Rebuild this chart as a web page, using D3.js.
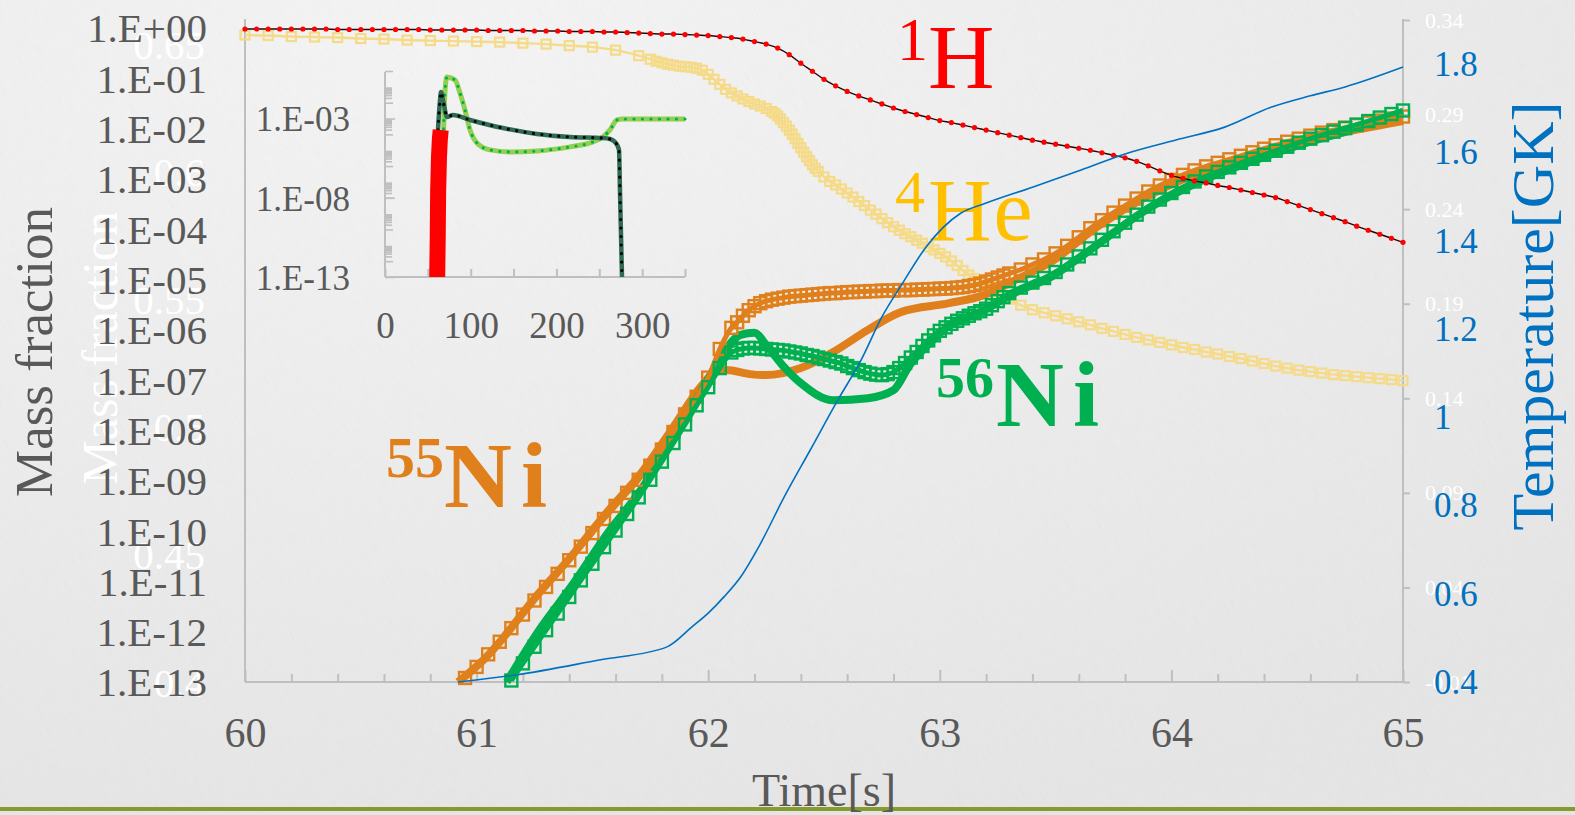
<!DOCTYPE html>
<html>
<head>
<meta charset="utf-8">
<script src="https://cdn.jsdelivr.net/npm/d3@7"></script>
<style>
  html, body { margin: 0; padding: 0; overflow: hidden; background: #ebebeb; }
  svg { display: block; }
  text { font-family: "Liberation Serif", "Times New Roman", serif; }
</style>
</head>
<body>
<svg id="chart" width="1575" height="815"></svg>
<script>
// ---------- Tick definitions ----------
const timeTicks = [60, 61, 62, 63, 64, 65];
const massTickExp = [0, -1, -2, -3, -4, -5, -6, -7, -8, -9, -10, -11, -12, -13];
const tempTicks = [0.4, 0.6, 0.8, 1.0, 1.2, 1.4, 1.6, 1.8];
const ghostLeftTicks = [0.4, 0.45, 0.5, 0.55, 0.6, 0.65];
const ghostRightTicks = [-0.01, 0.04, 0.09, 0.14, 0.19, 0.24, 0.29, 0.34];
const insetTimeTicks = [0, 100, 200, 300];
const insetMassExp = [-3, -8, -13];

// ---------- 1H mass fraction (log10) ----------
const h1Time = [
  60.00,60.05,60.10,60.15,60.20,60.25,60.30,60.35,60.40,60.45,
  60.50,60.55,60.60,60.65,60.70,60.75,60.80,60.85,60.90,60.95,
  61.00,61.05,61.10,61.15,61.20,61.25,61.30,61.35,61.40,61.45,
  61.50,61.55,61.60,61.65,61.70,61.75,61.80,61.85,61.90,61.95,
  62.00,62.05,62.10,62.15,62.20,62.25,62.30,62.35,62.40,62.45,
  62.50,62.55,62.60,62.65,62.70,62.75,62.80,62.85,62.90,62.95,
  63.00,63.05,63.10,63.15,63.20,63.25,63.30,63.35,63.40,63.45,
  63.50,63.55,63.60,63.65,63.70,63.75,63.80,63.85,63.90,63.95,
  64.00,64.05,64.10,64.15,64.20,64.25,64.30,64.35,64.40,64.45,
  64.50,64.55,64.60,64.65,64.70,64.75,64.80,64.85,64.90,64.95,
  65.00];
const h1Log = [
  -0.02,-0.02,-0.02,-0.02,-0.02,-0.02,-0.02,-0.02,-0.03,-0.03,
  -0.03,-0.03,-0.03,-0.03,-0.03,-0.03,-0.04,-0.04,-0.04,-0.04,
  -0.04,-0.05,-0.05,-0.05,-0.05,-0.06,-0.06,-0.06,-0.07,-0.07,
  -0.07,-0.08,-0.08,-0.09,-0.10,-0.11,-0.12,-0.12,-0.13,-0.14,
  -0.15,-0.17,-0.19,-0.22,-0.27,-0.32,-0.40,-0.53,-0.70,-0.86,
  -1.02,-1.15,-1.26,-1.35,-1.43,-1.51,-1.59,-1.66,-1.72,-1.78,
  -1.84,-1.88,-1.93,-1.98,-2.03,-2.08,-2.13,-2.18,-2.23,-2.27,
  -2.31,-2.35,-2.39,-2.43,-2.48,-2.53,-2.58,-2.65,-2.74,-2.84,
  -2.93,-2.99,-3.04,-3.08,-3.13,-3.17,-3.22,-3.27,-3.32,-3.37,
  -3.45,-3.53,-3.61,-3.69,-3.77,-3.85,-3.94,-4.02,-4.10,-4.18,
  -4.26];

// ---------- 4He mass fraction (log10) ----------
const he4Time = [
  60.0,60.1,60.2,60.3,60.4,60.5,60.6,60.7,60.8,60.9,61.0,61.1,61.2,61.3,61.4,61.5,61.6,61.7,
  61.75,61.775,61.8,61.825,61.85,61.875,61.9,61.925,61.95,61.975,
  62.0,62.025,62.05,62.075,62.1,62.125,62.15,62.175,62.2,62.225,
  62.25,62.275,62.2875,62.3,62.3125,62.325,62.3375,62.35,62.3625,62.375,
  62.3875,62.4,62.4125,62.425,62.4375,62.45,62.4625,62.475,
  62.5,62.525,62.55,62.575,62.6,62.625,62.65,62.675,62.7,62.725,
  62.75,62.775,62.8,62.825,62.85,62.875,62.9,62.925,62.95,62.975,
  63.0,63.025,63.05,63.075,63.1,63.125,63.15,63.175,63.2,63.225,63.25,
  63.3,63.35,63.4,63.45,63.5,63.55,63.6,63.65,63.7,63.75,
  63.8,63.85,63.9,63.95,64.0,64.05,64.1,64.15,64.2,64.25,
  64.3,64.35,64.4,64.45,64.5,64.55,64.6,64.65,64.7,64.75,
  64.8,64.85,64.9,64.95,65.0];
const he4Log = [
  -0.14,-0.15,-0.17,-0.18,-0.19,-0.21,-0.22,-0.24,-0.25,-0.26,-0.27,-0.28,-0.30,-0.32,-0.35,-0.38,-0.44,-0.55,
  -0.62,-0.66,-0.69,-0.72,-0.74,-0.76,-0.77,-0.78,-0.80,-0.84,
  -0.92,-1.02,-1.12,-1.22,-1.29,-1.35,-1.41,-1.46,-1.51,-1.55,
  -1.60,-1.66,-1.70,-1.75,-1.81,-1.88,-1.95,-2.03,-2.11,-2.20,
  -2.29,-2.38,-2.47,-2.56,-2.64,-2.72,-2.79,-2.85,
  -2.96,-3.05,-3.12,-3.20,-3.28,-3.36,-3.45,-3.53,-3.62,-3.70,
  -3.79,-3.87,-3.95,-4.02,-4.09,-4.15,-4.22,-4.28,-4.35,-4.41,
  -4.48,-4.55,-4.63,-4.72,-4.82,-4.91,-4.98,-5.04,-5.11,-5.18,-5.25,
  -5.39,-5.51,-5.60,-5.66,-5.72,-5.78,-5.84,-5.90,-5.97,-6.03,
  -6.09,-6.15,-6.20,-6.25,-6.30,-6.35,-6.39,-6.44,-6.48,-6.53,
  -6.57,-6.62,-6.67,-6.72,-6.76,-6.80,-6.83,-6.86,-6.89,-6.91,
  -6.93,-6.95,-6.97,-6.99,-7.01];

// ---------- 55Ni / 56Ni, square-marker runs (log10) ----------
const ni55SqTime = [
  60.95,61.00,61.05,61.10,61.15,61.20,61.25,61.30,61.35,61.40,61.45,61.50,
  61.55,61.60,61.65,61.70,61.75,61.80,61.85,61.90,61.95,62.00,62.05,62.10,
  62.125,62.15,62.175,62.2,62.225,62.25,62.275,62.3,62.325,62.35,62.375,62.4,
  62.425,62.45,62.475,62.5,62.525,62.55,62.575,62.6,62.625,62.65,62.675,62.7,
  62.725,62.75,62.775,62.8,62.825,62.85,62.875,62.9,62.925,62.95,62.975,63.0,
  63.025,63.05,63.075,63.1,63.125,63.15,63.175,63.2,63.225,63.25,63.275,63.3,
  63.35,63.40,63.45,63.50,63.55,63.60,63.65,63.70,63.75,63.80,63.85,63.90,
  63.95,64.00,64.05,64.10,64.15,64.20,64.25,64.30,64.35,64.40,64.45,64.50,
  64.55,64.60,64.65,64.70,64.75,64.80,64.85,64.90,64.95,65.00];
const ni55SqLog = [
  -12.92,-12.70,-12.45,-12.20,-11.93,-11.66,-11.38,-11.11,-10.85,-10.58,-10.31,-10.04,
  -9.76,-9.50,-9.24,-8.98,-8.70,-8.38,-8.03,-7.68,-7.33,-6.95,-6.38,-5.96,
  -5.85,-5.72,-5.61,-5.53,-5.47,-5.43,-5.40,-5.38,-5.36,-5.34,-5.33,-5.32,
  -5.31,-5.30,-5.29,-5.28,-5.27,-5.27,-5.26,-5.25,-5.25,-5.24,-5.24,-5.23,
  -5.23,-5.22,-5.22,-5.22,-5.21,-5.21,-5.21,-5.20,-5.20,-5.19,-5.19,-5.18,
  -5.18,-5.17,-5.16,-5.15,-5.13,-5.11,-5.08,-5.04,-5.00,-4.96,-4.92,-4.88,
  -4.80,-4.70,-4.60,-4.48,-4.33,-4.16,-3.98,-3.82,-3.67,-3.53,-3.39,-3.25,
  -3.13,-3.02,-2.92,-2.83,-2.75,-2.68,-2.61,-2.54,-2.47,-2.40,-2.33,-2.26,
  -2.20,-2.14,-2.08,-2.03,-1.98,-1.93,-1.88,-1.84,-1.80,-1.76];

const ni56SqTime = [
  61.15,61.20,61.25,61.30,61.35,61.40,61.45,61.50,61.55,61.60,
  61.65,61.70,61.75,61.80,61.85,61.90,61.95,62.00,62.05,62.10,
  62.125,62.15,62.175,62.2,62.225,62.25,62.275,62.3,62.325,62.35,62.375,62.4,
  62.425,62.45,62.475,62.5,62.525,62.55,62.575,62.6,62.625,62.65,62.675,62.7,
  62.725,62.75,62.775,62.8,62.825,62.85,62.875,62.9,62.925,62.95,62.975,63.0,
  63.025,63.05,63.075,63.1,63.125,63.15,63.175,63.2,63.225,63.25,63.275,63.3,
  63.35,63.40,63.45,63.50,63.55,63.60,63.65,63.70,63.75,63.80,63.85,63.90,
  63.95,64.00,64.05,64.10,64.15,64.20,64.25,64.30,64.35,64.40,64.45,64.50,
  64.55,64.60,64.65,64.70,64.75,64.80,64.85,64.90,64.95,65.00];
const ni56SqLog = [
  -12.97,-12.63,-12.30,-11.97,-11.64,-11.31,-10.98,-10.65,-10.32,-9.99,
  -9.66,-9.33,-8.98,-8.62,-8.25,-7.88,-7.50,-7.14,-6.76,-6.45,
  -6.40,-6.37,-6.36,-6.36,-6.37,-6.38,-6.39,-6.40,-6.41,-6.43,-6.45,-6.47,
  -6.50,-6.52,-6.55,-6.58,-6.61,-6.64,-6.67,-6.72,-6.76,-6.80,-6.84,-6.87,
  -6.89,-6.90,-6.88,-6.84,-6.76,-6.66,-6.55,-6.44,-6.32,-6.21,-6.11,-6.02,
  -5.95,-5.88,-5.82,-5.77,-5.72,-5.67,-5.63,-5.58,-5.51,-5.43,-5.35,-5.27,
  -5.16,-5.06,-4.97,-4.85,-4.70,-4.54,-4.38,-4.21,-4.04,-3.87,-3.71,-3.55,
  -3.41,-3.28,-3.16,-3.05,-2.95,-2.86,-2.77,-2.68,-2.60,-2.52,-2.44,-2.36,
  -2.28,-2.20,-2.13,-2.06,-1.99,-1.92,-1.85,-1.78,-1.71,-1.64];

// ---------- 55Ni / 56Ni, plain-line runs (log10) ----------
const ni55LineTime = [60.92,61.03,61.27,61.42,61.56,61.71,61.85,61.97,62.03,62.08,62.18,62.25,
  62.40,62.54,62.69,62.83,63.04,63.19,63.33,63.48,63.68,63.89,64.11,64.33,64.55,64.77,65.00];
const ni55LineLog = [-13.0,-12.56,-11.23,-10.44,-9.64,-8.85,-7.93,-7.12,-6.84,-6.80,-6.88,-6.90,
  -6.76,-6.44,-6.00,-5.65,-5.47,-5.31,-5.00,-4.65,-3.95,-3.36,-2.90,-2.58,-2.28,-2.05,-1.85];
const ni56LineTime = [61.13,61.27,61.42,61.56,61.71,61.85,61.99,62.06,62.14,62.20,62.25,62.32,
  62.40,62.54,62.69,62.80,62.87,62.97,63.04,63.19,63.33,63.48,63.62,63.89,64.11,64.33,64.55,64.77,65.00];
const ni56LineLog = [-13.0,-11.97,-11.03,-10.08,-9.18,-8.13,-7.06,-6.50,-6.10,-6.06,-6.30,-6.70,
  -7.06,-7.40,-7.36,-7.20,-6.70,-6.20,-5.92,-5.61,-5.25,-4.95,-4.51,-3.62,-3.08,-2.68,-2.33,-2.03,-1.67];

// ---------- Temperature [GK] ----------
const tempTime = [60.92,61.17,61.53,61.82,61.93,62.00,62.07,62.14,62.22,62.33,62.44,62.56,62.66,62.75,
  62.84,62.94,63.09,63.20,63.40,63.61,63.81,64.02,64.23,64.43,64.60,64.75,65.00];
const tempGK = [0.400,0.416,0.450,0.479,0.525,0.556,0.594,0.638,0.708,0.821,0.925,1.039,1.129,1.227,
  1.304,1.385,1.462,1.485,1.521,1.560,1.598,1.628,1.657,1.702,1.728,1.748,1.793];

// ---------- Inset: long run (0-350 s), log10 mass fraction ----------
const insetLightTime = [66.5,69.0,70.5,72.3,81.7,87.5,93.3,99.2,107.3,122.5,145.8,177.3,215.8,
  239.2,254.3,262.5,270.7,277.7,350];
const insetLightLog = [-7.95,-2.50,-0.90,-0.38,-0.57,-1.39,-2.46,-3.72,-4.54,-4.98,-5.11,-5.05,-4.79,
  -4.54,-4.16,-3.72,-3.09,-3.03,-3.03];
const insetDarkTime = [61.8,64.2,65.3,68.8,72.3,79.3,99.2,137.7,177.3,215.8,254.3,262.5,268.3,
  273.0,274.2,276.5];
const insetDarkLog = [-3.72,-1.83,-1.32,-2.15,-2.90,-2.78,-3.09,-3.60,-3.97,-4.16,-4.23,-4.29,-4.48,
  -4.98,-7.70,-13.0];
const insetRedTime = [60.9,61.5,62.0,63.0,64.0,65.0];
const insetRedLog = [-13.0,-10.6,-7.6,-5.4,-4.3,-3.72];

// ---------- Scales ----------
const x = d3.scaleLinear().domain([60, 65]).range([245, 1403]);
const y = d3.scaleLog().domain([1e-13, 1]).range([682, 28]);
const yT = d3.scaleLinear().domain([0.4, 1.8]).range([682, 64]);
const yGhostL = d3.scaleLinear().domain([0.4, 0.65]).range([683, 45]);
const yGhostR = d3.scaleLinear().domain([-0.01, 0.34]).range([682, 20]);
const xi = d3.scaleLinear().domain([0, 350]).range([385, 685]);
const yi = d3.scaleLog().domain([1e-13, 1]).range([277, 71]);

const PLOT_TOP = 19, PLOT_BOTTOM = 682;
const GRAY = "#595959", AXIS = "#bfbfbf";
const RED = "#ff0000", HE = "#f5da88", ORANGE = "#e0801c", GREEN = "#00b050", BLUE = "#0070c0";

const pairs = (ts, ls) => {
  const n = Math.min(ts.length, ls.length);
  const out = [];
  for (let i = 0; i < n; i++) out.push({ t: ts[i], v: Math.pow(10, ls[i]) });
  return out;
};

const svg = d3.select("#chart");
const defs = svg.append("defs");

// ---------- Background ----------
const grad = defs.append("radialGradient").attr("id", "bg")
  .attr("cx", 0.28).attr("cy", 0.05).attr("r", 1.0);
grad.append("stop").attr("offset", 0).attr("stop-color", "#f5f5f5");
grad.append("stop").attr("offset", 1).attr("stop-color", "#e6e6e6");
svg.append("rect").attr("width", 1575).attr("height", 815).attr("fill", "url(#bg)");

const grain = defs.append("filter").attr("id", "grain")
  .attr("x", 0).attr("y", 0).attr("width", "100%").attr("height", "100%");
grain.append("feTurbulence").attr("type", "fractalNoise")
  .attr("baseFrequency", "0.9 0.06").attr("numOctaves", 2).attr("seed", 4);
grain.append("feColorMatrix").attr("type", "saturate").attr("values", 0);
svg.append("g").attr("transform", "rotate(-32 787 407)")
  .append("rect").attr("x", -600).attr("y", -700).attr("width", 2800).attr("height", 2200)
  .attr("filter", "url(#grain)").attr("opacity", 0.07);

// bottom rule
svg.append("rect").attr("x", 0).attr("y", 807).attr("width", 1575).attr("height", 4).attr("fill", "#879b2c");

// ---------- Faint white axes behind the chart ----------
const ghostL = svg.append("g").attr("transform", "translate(245,0)")
  .call(d3.axisLeft(yGhostL).tickValues(ghostLeftTicks).tickSize(0).tickPadding(40)
    .tickFormat(d => String(+d.toFixed(2))));
ghostL.select(".domain").remove();
ghostL.selectAll("text").attr("fill", "#ffffff").attr("font-size", 41)
  .style("font-family", "Liberation Serif, serif");

svg.append("text").attr("transform", "translate(117,348) rotate(-90)")
  .attr("text-anchor", "middle").attr("font-size", 50).attr("fill", "#ffffff")
  .text("Mass fraction");

const ghostR = svg.append("g").attr("transform", "translate(1403,0)")
  .call(d3.axisRight(yGhostR).tickValues(ghostRightTicks).tickSize(7).tickPadding(15)
    .tickFormat(d => String(+d.toFixed(2))));
ghostR.select(".domain").remove();
ghostR.selectAll("line").attr("stroke", AXIS).attr("stroke-width", 2);
ghostR.selectAll("text").attr("fill", "#ffffff").attr("font-size", 22)
  .style("font-family", "Liberation Serif, serif");

// ---------- Main axes ----------
const axes = svg.append("g").attr("stroke", AXIS).attr("stroke-width", 2);
axes.append("line").attr("x1", x(60)).attr("x2", x(60)).attr("y1", PLOT_TOP).attr("y2", PLOT_BOTTOM);
axes.append("line").attr("x1", x(65)).attr("x2", x(65)).attr("y1", PLOT_TOP).attr("y2", PLOT_BOTTOM);
axes.append("line").attr("x1", x(60)).attr("x2", x(65)).attr("y1", PLOT_BOTTOM).attr("y2", PLOT_BOTTOM);

const minorTimeTicks = d3.range(60.2, 65, 0.2).filter(v => Math.abs(v - Math.round(v)) > 1e-6);
const xMinor = svg.append("g").attr("transform", `translate(0,${PLOT_BOTTOM})`)
  .call(d3.axisBottom(x).tickValues(minorTimeTicks).tickSize(-8).tickFormat(""));
xMinor.select(".domain").remove();
xMinor.selectAll("line").attr("stroke", AXIS).attr("stroke-width", 2);

const xMajor = svg.append("g").attr("transform", `translate(0,${PLOT_BOTTOM})`)
  .call(d3.axisBottom(x).tickValues(timeTicks).tickSize(-12).tickPadding(35).tickFormat(d3.format("d")));
xMajor.select(".domain").remove();
xMajor.selectAll("line").attr("stroke", AXIS).attr("stroke-width", 2);
xMajor.selectAll("text").attr("fill", GRAY).attr("font-size", 42)
  .style("font-family", "Liberation Serif, serif");

const expLabel = e => "1.E" + (e >= 0 ? "+" : "-") + String(Math.abs(e)).padStart(2, "0");
const yAxis = svg.append("g").attr("transform", `translate(${x(60)},0)`)
  .call(d3.axisLeft(y).tickValues(massTickExp.map(e => Math.pow(10, e))).tickSize(0).tickPadding(38)
    .tickFormat(v => expLabel(Math.round(Math.log10(v)))));
yAxis.select(".domain").remove();
yAxis.selectAll("text").attr("fill", GRAY).attr("font-size", 41).attr("dy", "0.34em")
  .style("font-family", "Liberation Serif, serif");

const tAxis = svg.append("g").attr("transform", `translate(${x(65)},0)`)
  .call(d3.axisRight(yT).tickValues(tempTicks).tickSize(0).tickPadding(31)
    .tickFormat(d => String(+d.toFixed(1))));
tAxis.select(".domain").remove();
tAxis.selectAll("text").attr("fill", BLUE).attr("font-size", 35).attr("dy", "0.33em")
  .style("font-family", "Liberation Serif, serif");

// axis titles
svg.append("text").attr("transform", "translate(52,352) rotate(-90)")
  .attr("text-anchor", "middle").attr("font-size", 53).attr("fill", GRAY).text("Mass fraction");
svg.append("text").attr("transform", "translate(1553,316) rotate(-90)")
  .attr("text-anchor", "middle").attr("font-size", 60).attr("fill", BLUE).text("Temperature[GK]");
svg.append("text").attr("x", 824).attr("y", 806).attr("text-anchor", "middle")
  .attr("font-size", 46).attr("fill", GRAY).text("Time[s]");

// ---------- Species labels ----------
function isotope(sup, sym, sx, sy, bx, by, color, supSize, symSize, bold, spacing) {
  const g = svg.append("g").attr("fill", color).attr("font-weight", bold ? "bold" : "normal");
  g.append("text").attr("x", sx).attr("y", sy).attr("font-size", supSize).text(sup);
  g.append("text").attr("x", bx).attr("y", by).attr("font-size", symSize)
    .attr("letter-spacing", spacing).text(sym);
}
isotope("1", "H", 897, 60, 928, 88, RED, 62, 92, false, 0);
isotope("4", "He", 895, 212, 928, 240, "#ffc000", 60, 88, false, 2);
isotope("56", "Ni", 936, 397, 996, 426, GREEN, 58, 94, true, 9);
isotope("55", "Ni", 386, 477, 444, 507, ORANGE, 58, 94, true, 9);

// ---------- Series ----------
const lineMain = d3.line().x(d => x(d.t)).y(d => y(d.v)).curve(d3.curveMonotoneX);
const series = svg.append("g");

function squares(g, pts, size, color, sw) {
  g.append("g").selectAll("rect").data(pts).join("rect")
    .attr("x", d => x(d.t) - size / 2).attr("y", d => y(d.v) - size / 2)
    .attr("width", size).attr("height", size)
    .attr("fill", "none").attr("stroke", color).attr("stroke-width", sw);
}

// 4He: thin line with small open squares
const he = pairs(he4Time, he4Log);
series.append("path").datum(he).attr("d", lineMain)
  .attr("fill", "none").attr("stroke", HE).attr("stroke-width", 2.4);
squares(series, he, 9, HE, 2.2);

// Ni plain-line runs
series.append("path").datum(pairs(ni55LineTime, ni55LineLog)).attr("d", lineMain)
  .attr("fill", "none").attr("stroke", ORANGE).attr("stroke-width", 8).attr("stroke-linecap", "butt");
series.append("path").datum(pairs(ni56LineTime, ni56LineLog)).attr("d", lineMain)
  .attr("fill", "none").attr("stroke", GREEN).attr("stroke-width", 8).attr("stroke-linecap", "butt");

// Ni square-marker runs
const n55 = pairs(ni55SqTime, ni55SqLog);
series.append("path").datum(n55).attr("d", lineMain)
  .attr("fill", "none").attr("stroke", ORANGE).attr("stroke-width", 5);
squares(series, n55, 12, ORANGE, 2.4);
const n56 = pairs(ni56SqTime, ni56SqLog);
series.append("path").datum(n56).attr("d", lineMain)
  .attr("fill", "none").attr("stroke", GREEN).attr("stroke-width", 5);
squares(series, n56, 12, GREEN, 2.4);

// 1H: dark thin line with red dots
const h1 = pairs(h1Time, h1Log);
series.append("path").datum(h1).attr("d", lineMain)
  .attr("fill", "none").attr("stroke", "#2a0505").attr("stroke-width", 1.4);
series.append("g").selectAll("circle").data(h1).join("circle")
  .attr("cx", d => x(d.t)).attr("cy", d => y(d.v)).attr("r", 2.6).attr("fill", RED);

// Temperature
const tempPts = tempTime.map((t, i) => ({ t, g: tempGK[i] }));
series.append("path").datum(tempPts)
  .attr("d", d3.line().x(d => x(d.t)).y(d => yT(d.g)).curve(d3.curveMonotoneX))
  .attr("fill", "none").attr("stroke", BLUE).attr("stroke-width", 1.6);

// ---------- Inset ----------
const inset = svg.append("g");
const iAxes = inset.append("g").attr("stroke", AXIS).attr("stroke-width", 2);
iAxes.append("line").attr("x1", xi(0)).attr("x2", xi(0)).attr("y1", 72).attr("y2", yi(1e-13));
iAxes.append("line").attr("x1", xi(0)).attr("x2", xi(350)).attr("y1", yi(1e-13)).attr("y2", yi(1e-13));

const ixTicks = inset.append("g").attr("transform", `translate(0,${yi(1e-13)})`)
  .call(d3.axisBottom(xi).tickValues(d3.range(0, 351, 50)).tickSize(-8).tickFormat(""));
ixTicks.select(".domain").remove();
ixTicks.selectAll("line").attr("stroke", AXIS).attr("stroke-width", 2);

const ixLabels = inset.append("g").attr("transform", `translate(0,${yi(1e-13)})`)
  .call(d3.axisBottom(xi).tickValues(insetTimeTicks).tickSize(0).tickPadding(35).tickFormat(d3.format("d")));
ixLabels.select(".domain").remove();
ixLabels.selectAll("text").attr("fill", GRAY).attr("font-size", 37)
  .style("font-family", "Liberation Serif, serif");

// inset log ticks: every other decade plus its minor ticks, and the labelled decades
const evenDecades = d3.range(0, -13, -2);
const insetMinor = [];
evenDecades.forEach(k => { if (k < 0) d3.range(2, 10).forEach(m => insetMinor.push(m * Math.pow(10, k))); });
const iyMinor = inset.append("g").attr("transform", `translate(${xi(0)},0)`)
  .call(d3.axisRight(yi).tickValues(insetMinor).tickSize(7).tickFormat(""));
iyMinor.select(".domain").remove();
iyMinor.selectAll("line").attr("stroke", AXIS).attr("stroke-width", 1.6);
const iyEven = inset.append("g").attr("transform", `translate(${xi(0)},0)`)
  .call(d3.axisRight(yi).tickValues(evenDecades.map(k => Math.pow(10, k))).tickSize(8).tickFormat(""));
iyEven.select(".domain").remove();
iyEven.selectAll("line").attr("stroke", AXIS).attr("stroke-width", 1.6);

const iyMajor = inset.append("g").attr("transform", `translate(${xi(0)},0)`)
  .call(d3.axisLeft(yi).tickValues(insetMassExp.map(e => Math.pow(10, e))).tickSize(-10).tickPadding(35)
    .tickFormat(v => expLabel(Math.round(Math.log10(v)))));
iyMajor.select(".domain").remove();
iyMajor.selectAll("line").attr("stroke", AXIS).attr("stroke-width", 1.6);
iyMajor.selectAll("text").attr("fill", GRAY).attr("font-size", 35).attr("dy", "0.35em")
  .style("font-family", "Liberation Serif, serif");

const lineInset = d3.line().x(d => xi(d.t)).y(d => yi(d.v)).curve(d3.curveMonotoneX);

// light green run with green dots
const iLight = pairs(insetLightTime, insetLightLog);
inset.append("path").datum(iLight).attr("d", lineInset)
  .attr("fill", "none").attr("stroke", "#92d050").attr("stroke-width", 5);
inset.append("path").datum(iLight).attr("d", lineInset)
  .attr("fill", "none").attr("stroke", GREEN).attr("stroke-width", 3.2)
  .attr("stroke-linecap", "round").attr("stroke-dasharray", "0 8.5");

// dark run with black dots
const iDark = pairs(insetDarkTime, insetDarkLog);
inset.append("path").datum(iDark).attr("d", lineInset)
  .attr("fill", "none").attr("stroke", "#2f6b52").attr("stroke-width", 4.5);
inset.append("path").datum(iDark).attr("d", lineInset)
  .attr("fill", "none").attr("stroke", "#000000").attr("stroke-width", 3.2)
  .attr("stroke-linecap", "round").attr("stroke-dasharray", "0 8.5");

// short run squeezed into a thick red stroke
inset.append("path").datum(pairs(insetRedTime, insetRedLog))
  .attr("d", d3.line().x(d => xi(d.t)).y(d => yi(d.v)))
  .attr("fill", "none").attr("stroke", RED).attr("stroke-width", 16).attr("stroke-linecap", "butt");
</script>
</body>
</html>
